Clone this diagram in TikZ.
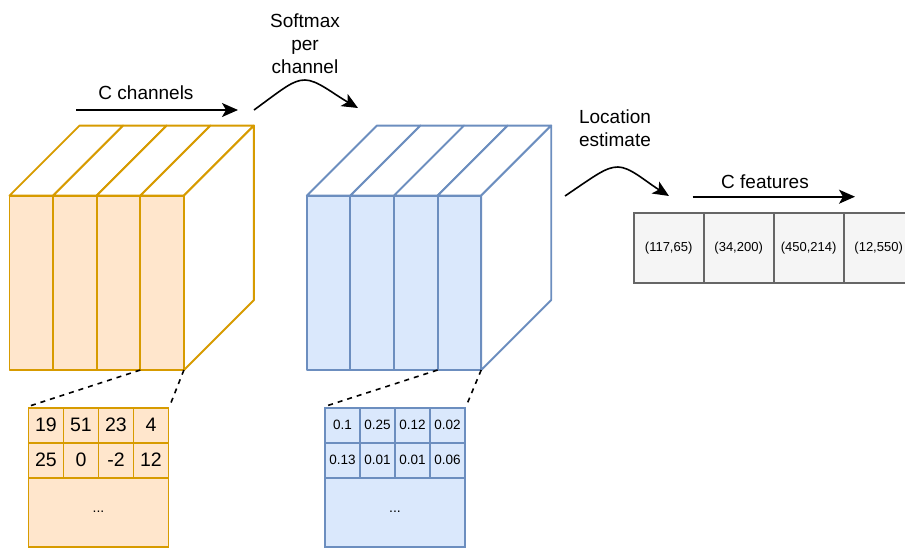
\documentclass[tikz,border=0pt]{standalone}
\usepackage{fontspec}
\setmainfont{Liberation Sans}
\usetikzlibrary{arrows.meta}
\definecolor{orfill}{HTML}{FFE6CC}
\definecolor{orline}{HTML}{D79B00}
\definecolor{blfill}{HTML}{DAE8FC}
\definecolor{blline}{HTML}{6C8EBF}
\definecolor{grfill}{HTML}{F5F5F5}
\definecolor{grline}{HTML}{666666}
\tikzset{
  label20/.style={font=\fontsize{19}{22}\selectfont, align=center, inner sep=0pt},
  flow/.style={line width=1.6pt, -{Stealth[length=16pt,width=14pt,inset=4pt]}},
  zoomline/.style={line width=1.6pt, dash pattern=on 5pt off 5pt},
  ocell/.style={draw=orline, fill=orfill, line width=1.9pt, minimum width=35pt, minimum height=35pt, inner sep=0pt, anchor=north west, font=\fontsize{19.5}{22}\selectfont},
  bcell/.style={draw=blline, fill=blfill, line width=1.9pt, minimum width=35pt, minimum height=35pt, inner sep=0pt, anchor=north west, font=\fontsize{13.5}{16}\selectfont},
  fcell/.style={draw=grline, fill=grfill, line width=1.9pt, minimum width=70pt, minimum height=70pt, inner sep=0pt, anchor=north west, font=\fontsize{13}{15}\selectfont},
}
% stack of four channel slices drawn as a box: #1 = left x, #2 fill, #3 line, #4 name prefix
\newcommand\channelstack[4]{%
  \begin{scope}[shift={(#1,0)}, line width=1.9pt, draw=#3, line join=round]
    \foreach \i in {0,1,2,3} {
      \draw[fill=white] (\i*43.6,195.6) -- (\i*43.6+70,125.6) -- (\i*43.6+113.6,125.6) -- (\i*43.6+43.6,195.6) -- cycle;
    }
    \draw[fill=white] (174.4,195.6) -- (244.4,125.6) -- (244.4,300) -- (174.4,370) -- cycle;
    \foreach \i in {0,1,2,3} {
      \draw[fill=#2] (\i*43.6,195.6) rectangle (\i*43.6+43.6,370);
    }
    \coordinate (#4sl) at (130.8,370);
    \coordinate (#4br) at (174.4,370);
  \end{scope}}
\begin{document}
\begin{tikzpicture}[x=1pt, y=-1pt]
  \useasboundingbox (0,0) rectangle (905,547);
  \clip (0,0) rectangle (905,547);

  % input feature maps and softmax maps
  \channelstack{9.5}{orfill}{orline}{in}
  \channelstack{306.8}{blfill}{blline}{sm}

  % raw values of one channel
  \node[ocell] (o11) at (27.5,406.7) {19};
  \node[ocell] (o12) at (62.5,406.7) {51};
  \node[ocell] (o13) at (97.5,406.7) {23};
  \node[ocell] (o14) at (132.5,406.7) {4};
  \node[ocell] (o21) at (27.5,441.7) {25};
  \node[ocell] (o22) at (62.5,441.7) {0};
  \node[ocell] (o23) at (97.5,441.7) {-2};
  \node[ocell] (o24) at (132.5,441.7) {12};
  \node[ocell, minimum width=140pt, minimum height=69pt, font=\fontsize{14}{16}\selectfont] (orest) at (27.5,476.7) {...};

  % softmax values of one channel
  \node[bcell] (b11) at (324,406.7) {0.1};
  \node[bcell] (b12) at (359,406.7) {0.25};
  \node[bcell] (b13) at (394,406.7) {0.12};
  \node[bcell] (b14) at (429,406.7) {0.02};
  \node[bcell] (b21) at (324,441.7) {0.13};
  \node[bcell] (b22) at (359,441.7) {0.01};
  \node[bcell] (b23) at (394,441.7) {0.01};
  \node[bcell] (b24) at (429,441.7) {0.06};
  \node[bcell, minimum width=140pt, minimum height=69pt, font=\fontsize{14}{16}\selectfont] (brest) at (324,476.7) {...};

  % zoom-in guides
  \draw[zoomline] (insl) -- (o11.north west);
  \draw[zoomline] (inbr) -- (o14.north east);
  \draw[zoomline] (smsl) -- (b11.north west);
  \draw[zoomline] (smbr) -- (b14.north east);

  % location features
  \node[fcell] (f1) at (632.7,212.3) {(117,65)};
  \node[fcell] (f2) at (702.7,212.3) {(34,200)};
  \node[fcell] (f3) at (772.7,212.3) {(450,214)};
  \node[fcell] (f4) at (842.7,212.3) {(12,550)};

  % labels
  \node[label20] (lch) at (146,93) {C channels};
  \node[label20] (lsm) at (305,43.5) {Softmax\\[1pt]per\\[1pt]channel};
  \node[label20] (lloc) at (615,128) {Location\\[1pt]estimate};
  \node[label20] (lfeat) at (765,181.5) {C features};

  % arrows
  \coordinate (cha) at (76,110);
  \coordinate (chb) at (238,110);
  \draw[flow] (cha) -- (chb);

  \coordinate (sma) at (254,110);
  \coordinate (smp) at (305,80);
  \coordinate (smb) at (358,108);
  \draw[flow] (sma) .. controls (284,88) and (293,80) .. (smp) .. controls (317,80) and (332,93) .. (smb);

  \coordinate (loa) at (565,196);
  \coordinate (lop) at (618,167);
  \coordinate (lob) at (669,196);
  \draw[flow] (loa) .. controls (596,175) and (606,167) .. (lop) .. controls (630,167) and (645,181) .. (lob);

  \coordinate (fea) at (692.5,196.7);
  \coordinate (feb) at (855,196.7);
  \draw[flow] (fea) -- (feb);
\end{tikzpicture}
\end{document}
